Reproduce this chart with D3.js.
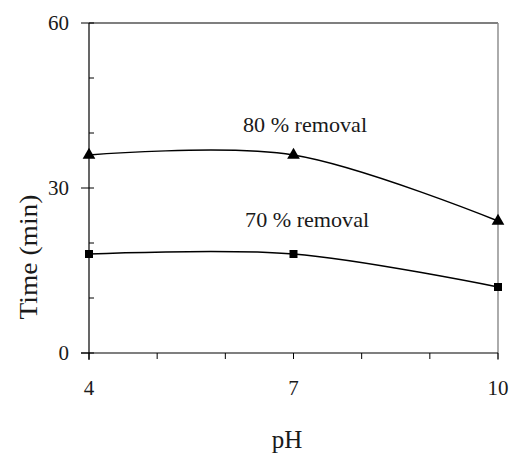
<!DOCTYPE html>
<html>
<head>
<meta charset="utf-8">
<script src="https://cdn.jsdelivr.net/npm/d3@7"></script>
<style>
  body { margin: 0; background: #fff; }
</style>
</head>
<body>
<div class="chart"></div>
<script>
const width = 510
const height = 454
const serif = "'Liberation Serif', 'Times New Roman', Times, serif"

const phValues = [4, 7, 10]
const removal80 = [36, 36, 24]
const removal70 = [18, 18, 12]
const xTicks = [4, 7, 10]
const xMinor = [5, 6, 8, 9]
const yTicks = [0, 30, 60]
const yMinor = [10, 20, 40, 50]

const margin = {top: 23, right: 12, bottom: 101, left: 89}

const x = d3.scaleLinear().domain([4, 10]).range([margin.left, width - margin.right])
const y = d3.scaleLinear().domain([0, 60]).range([height - margin.bottom, margin.top])

const svg = d3.create("svg")
  .attr("width", width)
  .attr("height", height)
  .attr("viewBox", [0, 0, width, height])
  .style("font-family", serif)

// frame: top black, right grey
svg.append("line")
  .attr("x1", x(4)).attr("x2", x(10))
  .attr("y1", y(60)).attr("y2", y(60))
  .attr("stroke", "#000").attr("stroke-width", 1.2)
svg.append("line")
  .attr("x1", x(10)).attr("x2", x(10))
  .attr("y1", y(60)).attr("y2", y(0) + 7)
  .attr("stroke", "#888").attr("stroke-width", 1.4)

// x axis
const xAxis = svg.append("g").attr("transform", `translate(0,${y(0)})`)
xAxis.append("line")
  .attr("x1", x(4) - 8).attr("x2", x(10))
  .attr("stroke", "#000").attr("stroke-width", 1.2)
xAxis.selectAll(".xt")
  .data(xTicks.concat(xMinor))
  .join("line")
  .attr("x1", d => x(d)).attr("x2", d => x(d))
  .attr("y1", 0).attr("y2", 6)
  .attr("stroke", "#000").attr("stroke-width", 1)
xAxis.selectAll(".xl")
  .data(xTicks)
  .join("text")
  .attr("x", d => x(d))
  .attr("y", 42)
  .attr("text-anchor", "middle")
  .attr("fill", "#1a1a1a")
  .style("font", `21px ${serif}`)
  .text(d => d)

// y axis
const yAxis = svg.append("g").attr("transform", `translate(${x(4)},0)`)
yAxis.append("line")
  .attr("y1", y(60)).attr("y2", y(0) + 7)
  .attr("stroke", "#000").attr("stroke-width", 1.2)
yAxis.selectAll(".yt")
  .data(yTicks)
  .join("line")
  .attr("x1", -8).attr("x2", 5)
  .attr("y1", d => y(d)).attr("y2", d => y(d))
  .attr("stroke", "#000").attr("stroke-width", 1)
yAxis.selectAll(".ym")
  .data(yMinor)
  .join("line")
  .attr("x1", 0).attr("x2", 5)
  .attr("y1", d => y(d)).attr("y2", d => y(d))
  .attr("stroke", "#000").attr("stroke-width", 1)
yAxis.selectAll(".yl")
  .data(yTicks)
  .join("text")
  .attr("x", -20)
  .attr("y", d => y(d))
  .attr("dy", "0.35em")
  .attr("text-anchor", "end")
  .attr("fill", "#1a1a1a")
  .style("font", `21px ${serif}`)
  .text(d => d)

// axis titles
svg.append("text")
  .attr("x", 287)
  .attr("y", 448)
  .attr("text-anchor", "middle")
  .attr("fill", "#1a1a1a")
  .style("font", `25px ${serif}`)
  .text("pH")

svg.append("text")
  .attr("transform", "translate(37,257) rotate(-90)")
  .attr("text-anchor", "middle")
  .attr("fill", "#1a1a1a")
  .style("font", `25px ${serif}`)
  .attr("textLength", 125)
  .attr("lengthAdjust", "spacingAndGlyphs")
  .text("Time (min)")

// series
const line = d3.line()
  .x((d, i) => x(phValues[i]))
  .y(d => y(d))
  .curve(d3.curveCardinal.tension(0))

const series = [
  {name: "80 % removal", values: removal80, marker: d3.symbolTriangle, size: 70, lx: 6.26, ly: 40.2},
  {name: "70 % removal", values: removal70, marker: d3.symbolSquare, size: 64, lx: 6.29, ly: 22.9}
]

series.forEach(s => {
  svg.append("path")
    .attr("d", line(s.values))
    .attr("fill", "none")
    .attr("stroke", "#000")
    .attr("stroke-width", 1.5)

  svg.append("g")
    .selectAll("path")
    .data(s.values)
    .join("path")
    .attr("transform", (d, i) => `translate(${x(phValues[i])},${y(d)})`)
    .attr("d", d3.symbol().type(s.marker).size(s.size))
    .attr("fill", "#000")

  svg.append("text")
    .attr("x", x(s.lx))
    .attr("y", y(s.ly))
    .attr("fill", "#1a1a1a")
    .style("font", `21px ${serif}`)
    .attr("textLength", 124)
    .attr("lengthAdjust", "spacingAndGlyphs")
    .text(s.name)
})

document.querySelector(".chart").append(svg.node())
</script>
</body>
</html>
